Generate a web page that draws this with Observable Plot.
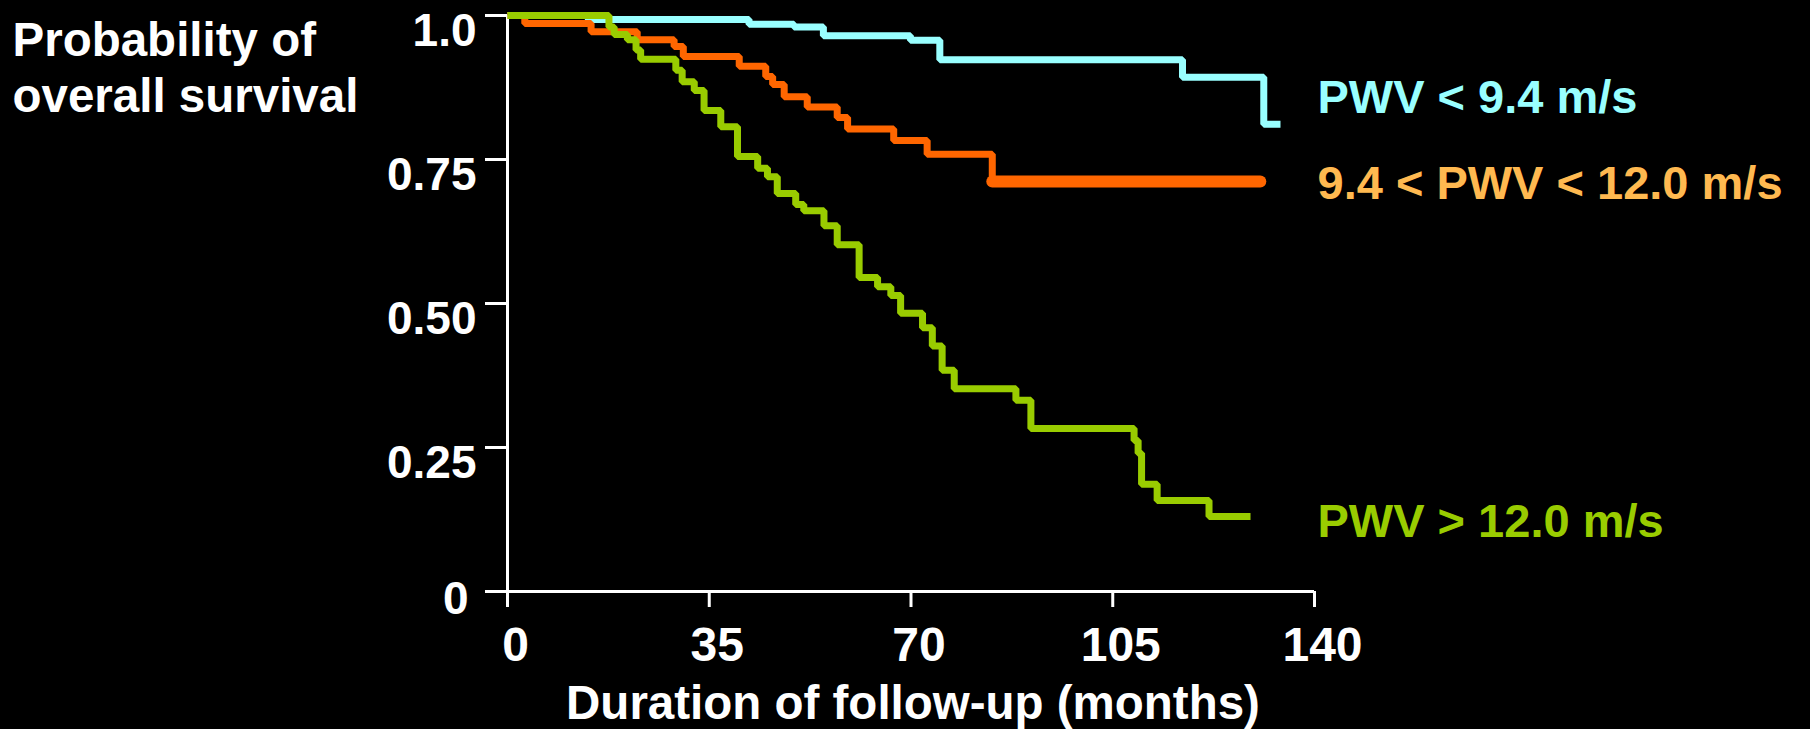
<!DOCTYPE html>
<html>
<head>
<meta charset="utf-8">
<script src="https://cdn.jsdelivr.net/npm/d3@7"></script>
<script src="https://cdn.jsdelivr.net/npm/@observablehq/plot@0.6"></script>
<style>
  html, body { margin: 0; padding: 0; background: #000; }
  #chart { width: 1810px; height: 729px; }
</style>
</head>
<body>
<div id="chart"></div>
<script>
// ---- Data (months, survival probability) ----
const seriesNames = ["PWV < 9.4 m/s", "9.4 < PWV < 12.0 m/s", "PWV > 12.0 m/s"];

const lowT  = [0, 14.0, 41.9, 49.7, 54.8, 69.9, 75.0, 117.1, 131.2, 134.1];
const lowP  = [1.0, 0.993, 0.985, 0.98, 0.965, 0.957, 0.923, 0.893, 0.811, 0.811];

const midT  = [0, 3.0, 14.5, 22.5, 28.9, 30.5, 40.2, 44.8, 46.0, 48.0, 52.0, 57.2, 59.0, 67.0, 72.8, 84.1, 130.6];
const midP  = [1.0, 0.986, 0.972, 0.958, 0.946, 0.929, 0.912, 0.894, 0.880, 0.859, 0.841, 0.823, 0.803, 0.783, 0.759, 0.712, 0.712];

const highT = [0, 17.6, 18.5, 19.1, 20.8, 22.3, 23.1, 29.2, 30.3, 32.4, 34.1, 37.0, 39.9, 43.4, 45.1, 46.8, 50.0, 51.4, 54.9, 57.2, 61.0, 64.2, 66.5, 68.2, 72.0, 73.7, 75.4, 77.5, 88.2, 90.8, 108.7, 109.4, 110.0, 112.7, 121.7, 128.9];
const highP = [1.0, 0.98, 0.967, 0.967, 0.958, 0.94, 0.924, 0.905, 0.885, 0.87, 0.835, 0.807, 0.755, 0.735, 0.72, 0.691, 0.672, 0.661, 0.635, 0.602, 0.545, 0.529, 0.514, 0.483, 0.458, 0.426, 0.384, 0.352, 0.332, 0.283, 0.262, 0.24, 0.186, 0.158, 0.130, 0.130];

const xTicks = [0, 35, 70, 105, 140];
const xTickLabels = ["0", "35", "70", "105", "140"];
const yTicks = [0, 0.25, 0.5, 0.75, 1.0];
const yTickLabels = ["0", "0.25", "0.50", "0.75", "1.0"];

const xTitle = "Duration of follow-up (months)";
const yTitle = "Probability of\noverall survival";

// ---- Build tables ----
const toRows = (T, P, name) => T.map((t, i) => ({t, p: P[i], name}));
const low = toRows(lowT, lowP, seriesNames[0]);
const mid = toRows(midT, midP, seriesNames[1]);
const high = toRows(highT, highP, seriesNames[2]);
const lastOf = (rows) => [rows[rows.length - 1]];

const lineColors = {low: "#99FFFF", mid: "#FF6600", high: "#99CC00"};
const labelColors = {low: "#99FFFF", mid: "#FFB950", high: "#99CC00"};

const font = "Liberation Sans, Arial, Helvetica, sans-serif";
const yLabel = (d) => yTickLabels[yTicks.indexOf(d)];

const chart = Plot.plot({
  width: 1810,
  height: 729,
  marginLeft: 507,
  marginRight: 496,
  marginTop: 15,
  marginBottom: 138,
  style: {background: "#000", color: "#fff", fontFamily: font, fontWeight: "bold", overflow: "visible"},
  x: {domain: [0, 140], axis: null},
  y: {domain: [0, 1], axis: null},
  marks: [
    // axis lines
    Plot.ruleX([0], {stroke: "#fff", strokeWidth: 3}),
    Plot.ruleY([0], {stroke: "#fff", strokeWidth: 3}),
    // x ticks and labels
    Plot.axisX(xTicks, {tickSize: 16, strokeWidth: 3, tickFormat: () => "", label: null}),
    Plot.axisX(xTicks, {tickSize: 0, tickPadding: 35, dx: 8, fontSize: 48, fontFamily: font, fontWeight: "bold",
      tickFormat: (d) => xTickLabels[xTicks.indexOf(d)], label: null}),
    // y ticks and labels
    Plot.axisY(yTicks, {tickSize: 22, strokeWidth: 3, tickFormat: () => "", label: null}),
    Plot.axisY(yTicks.slice(1), {tickSize: 0, tickPadding: 31, dy: 16, fontSize: 46, fontFamily: font, fontWeight: "bold",
      tickFormat: yLabel, label: null}),
    Plot.axisY(yTicks.slice(0, 1), {tickSize: 0, tickPadding: 39, dy: 8, fontSize: 46, fontFamily: font, fontWeight: "bold",
      tickFormat: yLabel, label: null}),
    // titles
    Plot.text([xTitle], {frameAnchor: "bottom", lineAnchor: "top", dy: 94, dx: 2, fontSize: 47.5,
      fontFamily: font, fontWeight: "bold", fill: "#fff"}),
    Plot.text([yTitle], {frameAnchor: "top-left", lineAnchor: "top", textAnchor: "start", dx: -495, dy: 0,
      fontSize: 47.5, lineHeight: 1.19, fontFamily: font, fontWeight: "bold", fill: "#fff"}),
    // survival curves
    Plot.line(low, {x: "t", y: "p", curve: "step-after", stroke: lineColors.low, strokeWidth: 7,
      strokeLinejoin: "miter", strokeLinecap: "butt"}),
    Plot.line(mid, {x: "t", y: "p", curve: "step-after", stroke: lineColors.mid, strokeWidth: 7,
      strokeLinejoin: "miter", strokeLinecap: "butt"}),
    Plot.line(mid, {filter: (d) => d.t >= 84.1, x: "t", y: "p", stroke: lineColors.mid, strokeWidth: 12,
      strokeLinecap: "round"}),
    Plot.line(high, {x: "t", y: "p", curve: "step-after", stroke: lineColors.high, strokeWidth: 7,
      strokeLinejoin: "miter", strokeLinecap: "butt"}),
    // end labels
    Plot.text(lastOf(low), {x: () => 140, y: "p", text: "name", textAnchor: "start", dx: 3, dy: -26,
      fontSize: 47, fill: labelColors.low, fontWeight: "bold"}),
    Plot.text(lastOf(mid), {x: () => 140, y: "p", text: "name", textAnchor: "start", dx: 3, dy: 3,
      fontSize: 47, fill: labelColors.mid, fontWeight: "bold"}),
    Plot.text(lastOf(high), {x: () => 140, y: "p", text: "name", textAnchor: "start", dx: 3, dy: 5,
      fontSize: 47, fill: labelColors.high, fontWeight: "bold"})
  ]
});
document.getElementById("chart").appendChild(chart);
</script>
</body>
</html>
